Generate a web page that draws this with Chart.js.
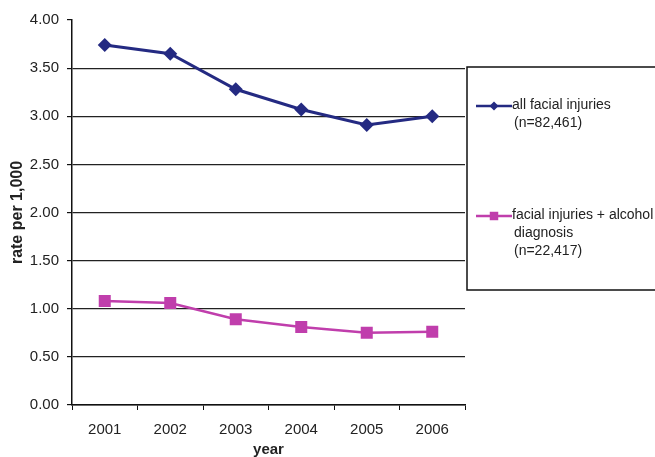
<!DOCTYPE html>
<html>
<head>
<meta charset="utf-8">
<script src="https://cdn.jsdelivr.net/npm/chart.js@4.4.0/dist/chart.umd.min.js"></script>
<style>
  html, body { margin: 0; padding: 0; background: #fff; }
  #wrap { width: 655px; height: 457px; position: relative; }
</style>
</head>
<body>
<div id="wrap"><canvas id="myChart" width="655" height="457"></canvas></div>
<script>
const years = ['2001', '2002', '2003', '2004', '2005', '2006'];
const allFacial = [3.74, 3.65, 3.28, 3.07, 2.91, 3.00];
const withAlcohol = [1.08, 1.06, 0.89, 0.81, 0.75, 0.76];
const legendLines = [
    ['all facial injuries', '(n=82,461)'],
    ['facial injuries + alcohol', 'diagnosis', '(n=22,417)']
];

const blue = 'rgb(36, 42, 130)';
const pink = 'rgb(192, 62, 172)';
const ink = '#222';

// legend drawn in the box on the right, like the original
const boxLegend = {
    id: 'boxLegend',
    afterDraw(chart) {
        const c = chart.ctx;
        c.save();
        c.strokeStyle = '#111';
        c.lineWidth = 1.5;
        c.strokeRect(467, 67, 200, 223);
        const entries = [
            { y: 106, color: blue, shape: 'rectRot', r: 4.5, lines: legendLines[0] },
            { y: 216, color: pink, shape: 'rect', r: 6, lines: legendLines[1] }
        ];
        c.font = '14px "Liberation Sans", Arial, sans-serif';
        c.textBaseline = 'middle';
        entries.forEach(e => {
            c.strokeStyle = e.color;
            c.lineWidth = 2.5;
            c.beginPath();
            c.moveTo(476, e.y);
            c.lineTo(512, e.y);
            c.stroke();
            c.fillStyle = e.color;
            Chart.helpers.drawPoint(c, { pointStyle: e.shape, radius: e.r, borderWidth: 0 }, 494, e.y);
            c.fillStyle = ink;
            e.lines.forEach((t, i) => {
                c.fillText(t, i === 0 ? 512 : 514, e.y - 1 + i * 18);
            });
        });
        c.restore();
    }
};

const ctx = document.getElementById('myChart').getContext('2d');

const myChart = new Chart(ctx, {
    type: 'line',
    data: {
        labels: years,
        datasets: [{
            label: 'all facial injuries (n=82,461)',
            data: allFacial,
            borderColor: blue,
            backgroundColor: blue,
            borderWidth: 3,
            pointStyle: 'rectRot',
            pointRadius: 7,
            pointBorderWidth: 0,
            tension: 0
        }, {
            label: 'facial injuries + alcohol diagnosis (n=22,417)',
            data: withAlcohol,
            borderColor: pink,
            backgroundColor: pink,
            borderWidth: 2.5,
            pointStyle: 'rect',
            pointRadius: 8.5,
            pointBorderWidth: 0,
            tension: 0
        }]
    },
    options: {
        responsive: false,
        animation: false,
        layout: {
            padding: { top: 20, right: 190, left: 0, bottom: 0 }
        },
        plugins: {
            legend: { display: false },
            tooltip: { enabled: false }
        },
        scales: {
            x: {
                offset: true,
                grid: {
                    display: true,
                    offset: true,
                    drawOnChartArea: false,
                    tickLength: 5,
                    tickColor: '#111'
                },
                border: { display: true, color: '#111', width: 1.5 },
                ticks: {
                    color: ink,
                    padding: 11,
                    font: { family: '"Liberation Sans", Arial, sans-serif', size: 15 }
                },
                title: {
                    display: true,
                    text: 'year',
                    color: ink,
                    padding: 0,
                    font: { family: '"Liberation Sans", Arial, sans-serif', size: 15, weight: 'bold', lineHeight: 1 }
                },
                afterFit(scale) { scale.height = 52; }
            },
            y: {
                min: 0,
                max: 4,
                grid: {
                    color: c => (c.tick && c.tick.value === 4) ? 'rgba(0,0,0,0)' : '#222',
                    lineWidth: 1.2,
                    tickLength: 5,
                    tickColor: '#111'
                },
                border: { display: true, color: '#111', width: 1.5 },
                ticks: {
                    stepSize: 0.5,
                    color: ink,
                    padding: 8,
                    font: { family: '"Liberation Sans", Arial, sans-serif', size: 15 },
                    callback: v => Number(v).toFixed(2)
                },
                title: {
                    display: true,
                    text: 'rate per 1,000',
                    color: ink,
                    padding: { top: 8, bottom: 0 },
                    font: { family: '"Liberation Sans", Arial, sans-serif', size: 16, weight: 'bold' }
                },
                afterFit(scale) { scale.width = 72; }
            }
        }
    },
    plugins: [boxLegend]
});
</script>
</body>
</html>
